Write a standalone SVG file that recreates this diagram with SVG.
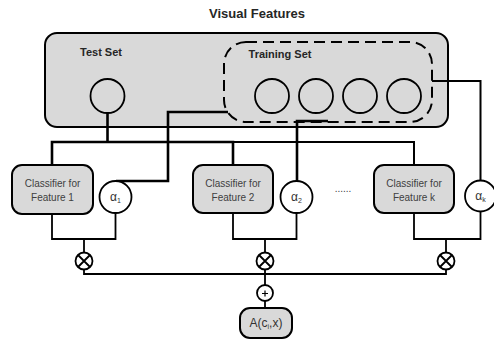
<svg xmlns="http://www.w3.org/2000/svg" width="494" height="339" viewBox="0 0 494 339">
<style>
.box{fill:#d9d9d9;stroke:#000;stroke-width:2}
.ring{fill:none;stroke:#000;stroke-width:1.8}
.wc{fill:#fff;stroke:#000;stroke-width:1.8}
.thick{fill:none;stroke:#000;stroke-width:2.6}
.mid{fill:none;stroke:#000;stroke-width:2}
.thin{fill:none;stroke:#000;stroke-width:1.8}
.bt{font-family:"Liberation Sans",Arial,sans-serif;font-weight:bold;fill:#262626;text-anchor:middle}
.ct{font-family:"Liberation Sans",Arial,sans-serif;font-size:10px;fill:#404040;text-anchor:middle}
.at{font-family:"Liberation Sans",Arial,sans-serif;font-size:12px;fill:#333;text-anchor:middle}
</style>
<rect width="494" height="339" fill="#fff"/>
<g id="visual-features">
<rect class="box" x="45" y="33" width="403" height="94" rx="12"/>
<text class="bt" x="257" y="18" font-size="13">Visual Features</text>
</g>
<g id="test-set">
<text class="bt" x="101" y="56" font-size="11">Test Set</text>
<circle class="ring" cx="107.5" cy="96" r="17"/>
</g>
<g id="training-set">
<rect x="224" y="42" width="208" height="80" rx="22" fill="none" stroke="#000" stroke-width="2" stroke-dasharray="11 6"/>
<text class="bt" x="280" y="58" font-size="11">Training Set</text>
<circle class="ring" cx="272" cy="96" r="17"/>
<circle class="ring" cx="316" cy="96" r="17"/>
<circle class="ring" cx="360" cy="96" r="17"/>
<circle class="ring" cx="404" cy="96" r="17"/>
</g>
<g id="connectors">
<path class="thick" d="M107.5,113 V142"/>
<path class="thick" d="M52,165 V142 H233 V165"/>
<path class="mid" d="M233,142 H414 V165"/>
<path class="thick" d="M228,112 H168 V181 H116"/>
<path class="thick" d="M328,121 H297 V181"/>
<path class="mid" d="M432,81 H480.5 V181"/>
<path class="thin" d="M52,214 V239 H115.5 V213 M84,239 V252.5"/>
<path class="thin" d="M233,213 V239 H296.5 V213 M265,239 V252.5"/>
<path class="thin" d="M414,213 V239 H480.5 V212 M446,239 V252.5"/>
<path class="thin" d="M84,269.5 V274 H446 V269.5 M265,269.5 V285"/>
<path class="thin" d="M265,301 V308"/>
</g>
<g id="classifier-1">
<rect class="box" x="12" y="165" width="81" height="49" rx="10"/>
<text class="ct" x="52.5" y="187">Classifier for</text>
<text class="ct" x="52.5" y="201">Feature 1</text>
</g>
<g id="classifier-2">
<rect class="box" x="193" y="165" width="80" height="48" rx="10"/>
<text class="ct" x="233" y="187">Classifier for</text>
<text class="ct" x="233" y="201">Feature 2</text>
</g>
<g id="classifier-k">
<rect class="box" x="374" y="165" width="80" height="48" rx="10"/>
<text class="ct" x="414" y="187">Classifier for</text>
<text class="ct" x="414" y="201">Feature k</text>
</g>
<g id="alpha-1">
<circle class="wc" cx="115.5" cy="197" r="16"/>
<text class="at" x="115.5" y="201">α<tspan font-size="7" dy="2">1</tspan></text>
</g>
<g id="alpha-2">
<circle class="wc" cx="296.5" cy="197" r="16"/>
<text class="at" x="296.5" y="201">α<tspan font-size="7" dy="2">2</tspan></text>
</g>
<g id="alpha-k">
<circle class="wc" cx="480.5" cy="196" r="15.5"/>
<text class="at" x="480.5" y="200">α<tspan font-size="7" dy="2">k</tspan></text>
</g>
<g id="ellipsis">
<text class="ct" x="343" y="192" font-size="9">......</text>
</g>
<g id="mult-1">
<circle class="wc" cx="84" cy="261" r="8.5"/>
<path class="thin" d="M78,255 L90,267 M90,255 L78,267"/>
</g>
<g id="mult-2">
<circle class="wc" cx="265" cy="261" r="8.5"/>
<path class="thin" d="M259,255 L271,267 M271,255 L259,267"/>
</g>
<g id="mult-k">
<circle class="wc" cx="446" cy="261" r="8.5"/>
<path class="thin" d="M440,255 L452,267 M452,255 L440,267"/>
</g>
<g id="sum">
<circle class="wc" cx="265" cy="293" r="8"/>
<path fill="none" stroke="#000" stroke-width="1.2" d="M262,293.5 H268 M265,290.5 V296.5"/>
</g>
<g id="output">
<rect class="box" x="240" y="308" width="52" height="30" rx="10"/>
<text class="at" x="266" y="327" font-size="12">A(c<tspan font-size="7" dy="2">i</tspan><tspan dy="-2">,x)</tspan></text>
</g>
</svg>
